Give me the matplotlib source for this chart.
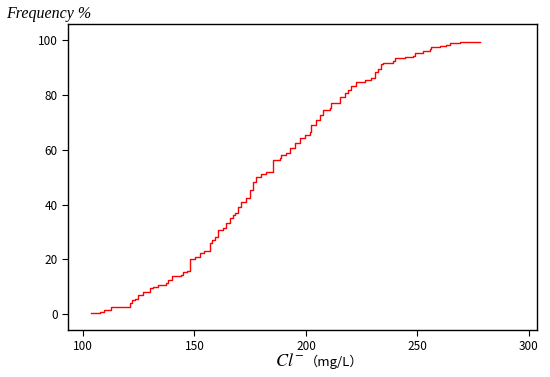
import matplotlib.pyplot as plt

# step points of the cumulative frequency curve (Cl- in mg/L, frequency in %)
cl_values = [103.5, 107.5, 109.3, 112.4, 120.9, 122.2, 123.2, 124.7, 126.9, 129.9,
             131.4, 133.6, 137.4, 138.1, 140.1, 144.1, 144.8, 146.6, 147.8, 150.1,
             152.3, 154.1, 156.8, 158.0, 159.1, 160.5, 162.8, 164.3, 165.8, 167.3,
             168.0, 169.5, 171.0, 173.3, 174.8, 176.2, 177.8, 180.0, 182.2, 185.2,
             188.2, 189.0, 191.2, 192.7, 194.9, 197.2, 199.4, 201.6, 202.4, 204.7,
             206.1, 207.6, 210.6, 211.4, 214.3, 215.1, 217.3, 218.8, 220.4, 222.6,
             226.4, 229.3, 230.8, 232.3, 233.8, 234.5, 239.0, 239.8, 244.3, 248.0,
             248.7, 252.5, 255.5, 256.2, 259.9, 262.9, 264.4, 268.9, 278.2]
freq_pct = [0.5, 0.8, 1.5, 2.7, 3.9, 5.1, 5.7, 6.9, 8.2, 9.4,
            10.0, 10.6, 11.2, 12.4, 14.0, 14.3, 15.5, 15.8, 20.2, 20.7,
            22.2, 23.0, 25.9, 27.1, 28.3, 30.7, 31.3, 33.2, 35.0, 36.2,
            36.8, 39.2, 41.1, 42.3, 45.3, 48.4, 50.2, 51.2, 52.0, 56.3,
            56.9, 58.1, 58.8, 60.6, 62.4, 64.2, 65.4, 66.7, 69.1, 70.9,
            72.8, 74.6, 75.2, 77.0, 77.3, 79.2, 80.7, 81.9, 83.4, 84.9,
            85.6, 86.2, 88.6, 89.5, 91.4, 91.9, 92.3, 93.5, 94.1, 94.3,
            95.5, 96.3, 96.8, 97.6, 98.0, 98.5, 99.0, 99.3, 99.4]
x_ticks = [100, 150, 200, 250, 300]
y_ticks = [0, 20, 40, 60, 80, 100]

plt.rcParams['mathtext.fontset'] = 'stix'
tick_font = ['Noto Sans CJK SC', 'DejaVu Sans']

fig = plt.figure(figsize=(5.5, 3.77), dpi=100)
ax = fig.add_axes([68 / 550, 47 / 377, 469 / 550, 306 / 377])

ax.step(cl_values, freq_pct, where='post', color='red', linewidth=1.0)

ax.set_xlim(93.3, 303.6)
ax.set_ylim(-5.8, 106)
ax.set_xticks(x_ticks)
ax.set_yticks(y_ticks)
ax.tick_params(direction='out', length=4, width=0.8, colors='black', labelsize=8.5)
for lab in ax.get_xticklabels() + ax.get_yticklabels():
    lab.set_family(tick_font)
for sp in ax.spines.values():
    sp.set_linewidth(1.0)
    sp.set_color('black')

# axis titles
fig.text(6 / 550, 1 - 14 / 377, 'Frequency %', family='Liberation Serif',
         style='italic', fontsize=11.5, ha='left', va='center')
fig.text(304 / 550, 1 - 361 / 377, r'$Cl^{-}$', fontsize=13,
         ha='right', va='center')
fig.text(305 / 550, 1 - 362 / 377, '（mg/L）', family=tick_font,
         fontsize=9.5, ha='left', va='center')

fig.savefig('out.png', dpi=100)
